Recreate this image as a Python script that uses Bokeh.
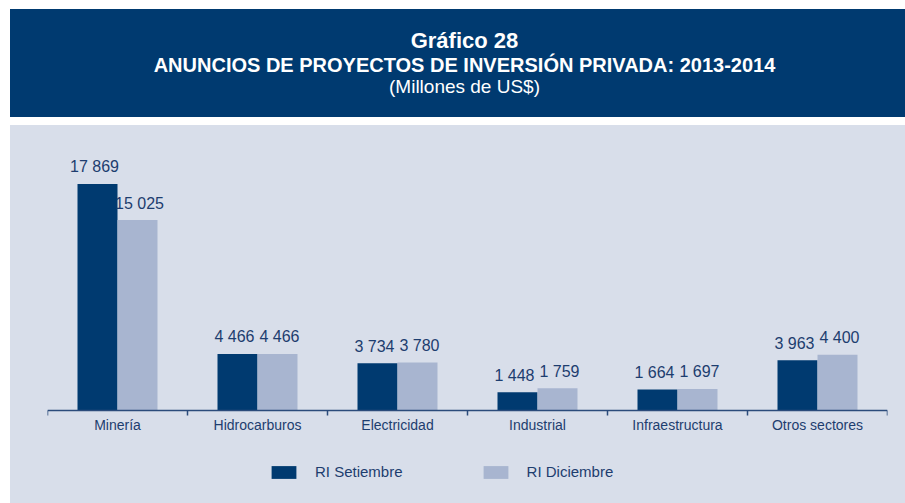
import numpy as np
from bokeh.plotting import figure
from bokeh.models import Range1d, FixedTicker, Legend, LegendItem
from bokeh.layouts import column
from bokeh.embed import file_html
from bokeh.resources import INLINE
from bokeh.core.properties import value

# ---- data ----
title_line1 = "Gráfico 28"
title_line2 = "ANUNCIOS DE PROYECTOS DE INVERSIÓN PRIVADA: 2013-2014"
title_line3 = "(Millones de US$)"
categories = ["Minería", "Hidrocarburos", "Electricidad", "Industrial",
              "Infraestructura", "Otros sectores"]
series_names = ["RI Setiembre", "RI Diciembre"]
ri_setiembre = [17869, 4466, 3734, 1448, 1664, 3963]
ri_diciembre = [15025, 4466, 3780, 1759, 1697, 4400]

# ---- style ----
FONT = "Liberation Sans"
DARK = "#003A70"
LIGHT = "#A8B5D0"
PANEL = "#D8DEEA"
TEXT = "#1D3D6F"
AXIS = "#2B4B7B"
W = 895
BL, BR, BT, BB = 37, 18, 10, 8


def fmt(v):
    return f"{v:,}".replace(",", " ")


# ---- header ----
HH = 108
hdr = figure(width=W, height=HH, x_range=Range1d(BL, W - BR), y_range=Range1d(HH - BB, BT),
             output_backend="svg", toolbar_location=None,
             x_axis_location=None, y_axis_location=None,
             min_border_left=BL, min_border_right=BR, min_border_top=BT, min_border_bottom=BB,
             outline_line_color=None, background_fill_color=None,
             border_fill_color=None, margin=(9, 0, 0, 10),
             styles={"background-color": DARK})
hdr.grid.visible = False
hdr.text(x=[454], y=[31], text=[title_line1], text_font=value(FONT),
         text_font_size="22px", text_font_style="bold", text_color="white",
         text_align="center", text_baseline="alphabetic")
hdr.text(x=[454], y=[55], text=[title_line2], text_font=value(FONT),
         text_font_size="20px", text_font_style="bold", text_color="white",
         text_align="center", text_baseline="alphabetic")
hdr.text(x=[454], y=[77], text=[title_line3], text_font=value(FONT),
         text_font_size="19px", text_color="white",
         text_align="center", text_baseline="alphabetic")

# ---- chart ----
x = np.arange(len(categories))
off = 1 / 7
bw = 2 / 7
ymax = 21690
per_px = ymax / 275.0
ymin = -85 * per_px

p = figure(width=W, height=378, x_range=Range1d(-0.5, len(categories) - 0.5),
           y_range=Range1d(ymin, ymax), output_backend="svg", toolbar_location=None,
           y_axis_location=None, min_border_left=BL, min_border_right=BR,
           min_border_top=BT, min_border_bottom=BB,
           background_fill_color=None, border_fill_color=None,
           outline_line_color=None, margin=(0, 0, 0, 10),
           styles={"background-color": PANEL})
p.grid.visible = False

r1 = p.vbar(x=x - off, top=ri_setiembre, width=bw, bottom=0,
            fill_color=DARK, line_color=None)
r2 = p.vbar(x=x + off, top=ri_diciembre, width=bw, bottom=0,
            fill_color=LIGHT, line_color=None)

p.text(x=x - off, y=ri_setiembre, text=[fmt(v) for v in ri_setiembre],
       text_font=value(FONT), text_font_size="16px", text_color=TEXT,
       text_align="center", text_baseline="alphabetic", y_offset=-17, x_offset=-3)
p.text(x=x + off, y=ri_diciembre, text=[fmt(v) for v in ri_diciembre],
       text_font=value(FONT), text_font_size="16px", text_color=TEXT,
       text_align="center", text_baseline="alphabetic", y_offset=-17, x_offset=2)

ax = p.xaxis[0]
ax.fixed_location = 0
ax.ticker = FixedTicker(ticks=[int(i) for i in x],
                        minor_ticks=[float(i) - 0.5 for i in range(len(categories) + 1)])
ax.major_label_overrides = {int(i): c for i, c in zip(x, categories)}
ax.major_tick_line_color = None
ax.major_tick_out = 0
ax.major_tick_in = 0
ax.minor_tick_out = 5
ax.minor_tick_in = 0
ax.minor_tick_line_color = AXIS
ax.minor_tick_line_width = 1.5
ax.axis_line_color = AXIS
ax.axis_line_width = 1.5
ax.major_label_standoff = 1
ax.major_label_text_font = FONT
ax.major_label_text_font_size = "14px"
ax.major_label_text_color = TEXT

legend = Legend(items=[LegendItem(label=series_names[0], renderers=[r1]),
                       LegendItem(label=series_names[1], renderers=[r2])],
                orientation="horizontal", location=(221, 15),
                glyph_width=31, glyph_height=16, label_height=16,
                label_standoff=16, spacing=77,
                padding=5, margin=0, border_line_color=None,
                background_fill_alpha=0, label_text_font=FONT,
                label_text_font_size="15px", label_text_color=TEXT)
p.add_layout(legend)

layout = column(hdr, p, spacing=8)
open("out.html", "w").write(file_html(layout, INLINE))
